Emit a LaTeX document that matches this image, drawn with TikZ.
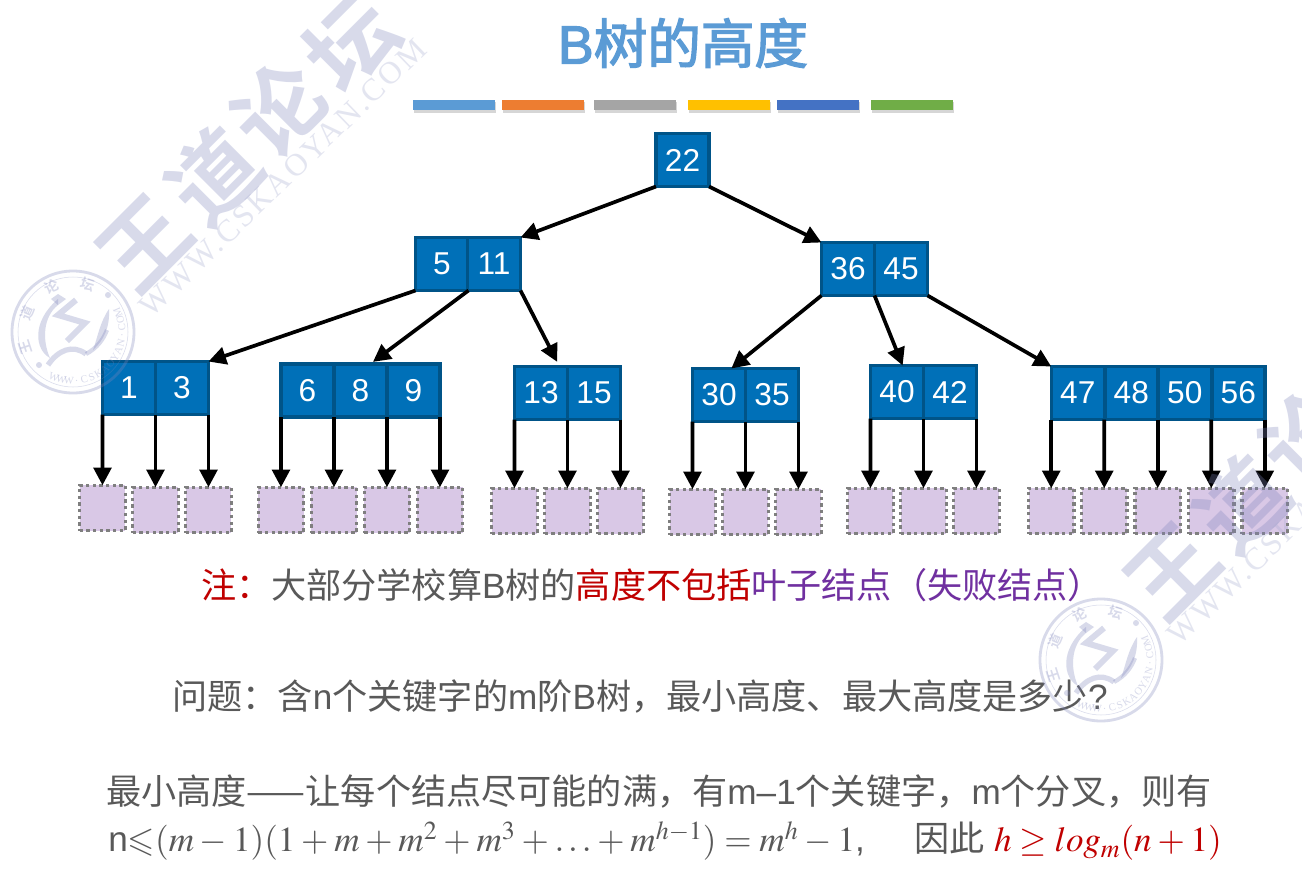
\documentclass[tikz,border=0pt]{standalone}
\usepackage{mathptmx}
\usepackage{amssymb}
\usepackage[no-math]{fontspec}
\setmainfont{Liberation Sans}
\newfontfamily\cjk{Noto Sans CJK SC}
\newfontfamily\cjkbold{Noto Sans CJK SC Bold}
\newfontfamily\titlesans[FakeBold=2.5]{Liberation Sans}
\newfontfamily\titlecjk[FakeBold=2.5]{Noto Sans CJK SC}
\newfontfamily\wmserif[LetterSpace=8]{Liberation Serif}
\newfontfamily\sealserif{Liberation Serif}
\newcommand{\zh}[1]{{\cjk #1}}
\newcommand{\zcolon}{^^^^ff1a}
\newcommand{\zcomma}{^^^^ff0c}
\newcommand{\zopen}{^^^^ff08}
\newcommand{\zclose}{^^^^ff09}
\usetikzlibrary{arrows.meta}

\definecolor{keyblue}{HTML}{0070B8}
\definecolor{keyedge}{HTML}{005488}
\definecolor{leaflilac}{HTML}{D9C8E6}
\definecolor{leafedge}{HTML}{7F7F7F}
\definecolor{bodygrey}{HTML}{595959}
\definecolor{noteRed}{HTML}{C00000}
\definecolor{notePurple}{HTML}{7030A0}
\definecolor{titleblue}{HTML}{5B9BD5}
\definecolor{wmark}{HTML}{7F85BC}

\tikzset{
    keybox/.style={draw=keyedge, fill=keyblue, line width=2pt, minimum size=53*0.02cm, inner sep=0pt, outer sep=0pt, text=white, font=\fontsize{18}{18}\selectfont},
    leafbox/.style={draw=leafedge, fill=leaflilac, line width=1.9pt, dash pattern=on 1.9pt off 1.9pt, minimum size=45.5*0.02cm, inner sep=0pt, outer sep=0pt},
    barbox/.style={minimum width=82*0.02cm, minimum height=10*0.02cm, inner sep=0pt, anchor=north west},
    barshade/.style={fill=black!45, opacity=.35},
    textline/.style={text=bodygrey, font=\fontsize{20}{24}\selectfont, inner sep=0pt},
    tiparrow/.style={->, line width=2.1pt},
    wmchar/.style={text=wmark, rotate=45, inner sep=0pt, font=\cjkbold\fontsize{50}{50}\selectfont}
}

\begin{document}
\begin{tikzpicture}[x=0.02cm, y=-0.02cm, >={Triangle[length=10pt,width=10pt]}]
        \useasboundingbox (0,0) rectangle (1302,896);
        \clip (0,0) rectangle (1302,896);
        \fill[white] (0,0) rectangle (1302,896);

        % Title
        \node[text=titleblue, inner sep=0pt, font=\fontsize{30.5}{34}\selectfont] (title) at (683,43) {{\titlesans B}{\titlecjk 树的高度}};

        % Colour bars
        \foreach \bx/\bc in {413/5B9BD5, 502/ED7D31, 594/A5A5A5, 688/FFC000, 777/4472C4, 871/70AD47}{
            \fill[barshade] (\bx+1,102) rectangle (\bx+83,113);
            \definecolor{barcol}{HTML}{\bc}
            \node[barbox, fill=barcol] (bar\bx) at (\bx,100) {};
        }

        % Root and second level
        \node[keybox] (key22) at (682.5,160) {22};
        \node[keybox] (key5) at (442,264) {5};
        \node[keybox] (key11) at (494,264) {11};
        \node[keybox] (key36) at (848,269) {36};
        \node[keybox] (key45) at (901,269) {45};

        % Third level
        \node[keybox] (key1) at (129,388) {1};
        \node[keybox] (key3) at (182,388) {3};
        \node[keybox] (key6) at (307.5,390.5) {6};
        \node[keybox] (key8) at (360.5,390.5) {8};
        \node[keybox] (key9) at (413.5,390.5) {9};
        \node[keybox] (key13) at (541,393) {13};
        \node[keybox] (key15) at (594,393) {15};
        \node[keybox] (key30) at (719,395) {30};
        \node[keybox] (key35) at (772,395) {35};
        \node[keybox] (key40) at (897,392) {40};
        \node[keybox] (key42) at (950,392) {42};
        \node[keybox] (key47) at (1077.75,393) {47};
        \node[keybox] (key48) at (1131.25,393) {48};
        \node[keybox] (key50) at (1184.75,393) {50};
        \node[keybox] (key56) at (1238.25,393) {56};

        % Failure leaves
        \node[leafbox] (leafA) at (102.5,508) {};
        \node[leafbox] (leafB) at (155.5,510) {};
        \node[leafbox] (leafC) at (208.5,510) {};
        \node[leafbox] (leafD) at (281,510) {};
        \node[leafbox] (leafE) at (334,510) {};
        \node[leafbox] (leafF) at (387,510) {};
        \node[leafbox] (leafG) at (440,510) {};
        \node[leafbox] (leafH) at (514.5,511) {};
        \node[leafbox] (leafI) at (567.5,511) {};
        \node[leafbox] (leafJ) at (620.5,511) {};
        \node[leafbox] (leafK) at (692.5,512) {};
        \node[leafbox] (leafL) at (745.5,512) {};
        \node[leafbox] (leafM) at (798.5,512) {};
        \node[leafbox] (leafN) at (870.5,511) {};
        \node[leafbox] (leafO) at (923.5,511) {};
        \node[leafbox] (leafP) at (976.5,511) {};
        \node[leafbox] (leafQ) at (1051.25,511) {};
        \node[leafbox] (leafR) at (1104.25,511) {};
        \node[leafbox] (leafS) at (1157.75,511) {};
        \node[leafbox] (leafT) at (1211.25,511) {};
        \node[leafbox] (leafU) at (1264.75,511) {};

        % Tree arrows
        \draw[tiparrow] (key22.south west)--(key11.north east);
        \draw[tiparrow] (key22.south east)--(key36.north west);
        \draw[tiparrow] (key5.south west)--(key3.north east);
        \draw[tiparrow, shorten >=2pt] (key5.south east)--(key8.70);
        \draw[tiparrow, shorten >=3pt] (key11.south east)--(key13.55);
        \draw[tiparrow] (key36.south west)--(key30.65);
        \draw[tiparrow] (key45.south west)--(key40.78);
        \draw[tiparrow] (key45.south east)--(key47.north west);

        % Arrows down to the leaves
        \draw[tiparrow] (key1.south west)--(leafA.north);
        \draw[tiparrow] (key1.south east)--(leafB.north);
        \draw[tiparrow] (key3.south east)--(leafC.north);
        \draw[tiparrow] (key6.south west)--(leafD.north);
        \draw[tiparrow] (key6.south east)--(leafE.north);
        \draw[tiparrow] (key8.south east)--(leafF.north);
        \draw[tiparrow] (key9.south east)--(leafG.north);
        \draw[tiparrow] (key13.south west)--(leafH.north);
        \draw[tiparrow] (key13.south east)--(leafI.north);
        \draw[tiparrow] (key15.south east)--(leafJ.north);
        \draw[tiparrow] (key30.south west)--(leafK.north);
        \draw[tiparrow] (key30.south east)--(leafL.north);
        \draw[tiparrow] (key35.south east)--(leafM.north);
        \draw[tiparrow] (key40.south west)--(leafN.north);
        \draw[tiparrow] (key40.south east)--(leafO.north);
        \draw[tiparrow] (key42.south east)--(leafP.north);
        \draw[tiparrow] (key47.south west)--(leafQ.north);
        \draw[tiparrow] (key47.south east)--(leafR.north);
        \draw[tiparrow] (key48.south east)--(leafS.north);
        \draw[tiparrow] (key50.south east)--(leafT.north);
        \draw[tiparrow] (key56.south east)--(leafU.north);

        % Note and text lines
        \node[textline] (note) at (652,585) {\zh{\textcolor{noteRed}{注\zcolon}大部分学校算}B\zh{树的\textcolor{noteRed}{高度不包括}\textcolor{notePurple}{叶子结点\zopen 失败结点\zclose}}};
        \node[textline] (question) at (640,696) {\zh{问题\zcolon 含}n\zh{个关键字的}m\zh{阶}B\zh{树\zcomma 最小高度、最大高度是多少}?};
        \node[textline] (minline) at (659,791) {\zh{最小高度——让每个结点尽可能的满\zcomma 有}m--1\zh{个关键字\zcomma}m\zh{个分叉\zcomma 则有}};
        \node[textline, anchor=west] (formula) at (108,841) {\medmuskip=2.95mu n${\leqslant}(m-1)(1+m+m^2+m^3+\ldots+m^{h-1})=m^h-1$,\hspace{28pt}\zh{因此} \textcolor{noteRed}{$h\geq log_m(n+1)$}};

        % Watermarks
        \foreach \dx/\dy in {0/0,1028/328}{
            \begin{scope}[shift={(\dx,\dy)}, opacity=.3, text opacity=.3]
                \node[wmchar] (wmA\dx) at (144,243) {王};
                \node[wmchar] (wmB\dx) at (214,176) {道};
                \node[wmchar] (wmC\dx) at (279,109) {论};
                \node[wmchar] (wmD\dx) at (351,43) {坛};
                \node[text=wmark!70, rotate=44, inner sep=0pt, font=\wmserif\fontsize{18}{18}\selectfont] (wmE\dx) at (283,178) {WWW.CSKAOYAN.COM};
            \end{scope}
            % Round seal
            \begin{scope}[shift={(73+\dx,332+\dy)}, opacity=.3, text opacity=.3]
                \draw[wmark, line width=1.6pt] (0,0) circle (61);
                \draw[wmark, line width=.3pt] (0,0) circle (55);
                \foreach \ang/\ch in {198/王,157/道,115/论,73/坛}{
                    \node[text=wmark, rotate=\ang-90, inner sep=0pt, font=\cjkbold\fontsize{8}{8}\selectfont] (seal\ch\dx) at (\ang:1.0cm) {\ch};
                }
                \foreach \ch [count=\i] in {W,W,W,.,C,S,K,A,O,Y,A,N,.,C,O,M}{
                    \pgfmathsetmacro{\ang}{247+9.1*(\i-1)}
                    \node[text=wmark, rotate=\ang+90, inner sep=0pt, font=\sealserif\fontsize{6}{6}\selectfont] (sealt\i\dx) at (\ang:0.98cm) {\ch};
                }
                % Swirl
                \fill[wmark] (-15,-33) .. controls (-42,-10) and (-38,18) .. (-23,26) .. controls (-31,8) and (-30,-15) .. (-15,-27) -- cycle;
                \fill[wmark] (36,-23) .. controls (37,-5) and (31,8) .. (20,18) .. controls (25,4) and (27,-10) .. (36,-23) -- cycle;
                \draw[wmark, line width=3pt] (-25,33) .. controls (-15,18) and (0,12) .. (13,22);
                \draw[wmark, line width=2.4pt] (13,22) .. controls (24,16) and (30,8) .. (34,-2);
                \draw[wmark, line width=3.4pt] (3,-32) -- (-15,-17) -- (12,-9) -- (-6,9);
                \fill[wmark] (-15,-38) -- (-7,-33) -- (-15,-27) -- (-22,-33) -- cycle;
                \fill[wmark] (35,-37) circle (3);
                \fill[wmark] (-34,33) circle (3);
            \end{scope}
        }
\end{tikzpicture}
\end{document}
